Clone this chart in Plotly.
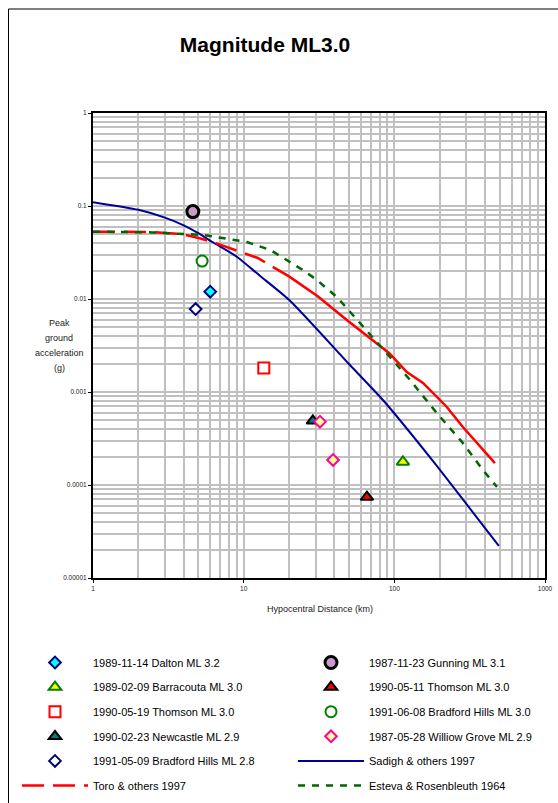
import plotly.graph_objects as go

# ---------------- data ----------------
sadigh_dist = [1, 2, 3, 4, 5, 6.2, 9, 12.8, 20, 50, 84, 178, 494]
sadigh_pga = [0.11, 0.091, 0.075, 0.062, 0.051, 0.041, 0.0285, 0.0178, 0.0098, 0.0020, 0.00082, 0.000186, 0.0000221]

toro_dist = [1, 2.4, 3.9, 5.1, 6.5, 10, 12.4, 15, 20, 31, 50, 93, 121, 155, 223, 285, 465]
toro_pga = [0.053, 0.0525, 0.050, 0.045, 0.040, 0.0315, 0.0276, 0.023, 0.0175, 0.0107, 0.0057,
            0.0026, 0.00164, 0.00125, 0.00069, 0.00042, 0.000172]

esteva_dist = [1, 2.5, 5.4, 8.1, 10.5, 15, 19.4, 24.7, 30.6, 41.6, 93.5, 127, 192, 285, 387, 480]
esteva_pga = [0.053, 0.052, 0.0488, 0.0442, 0.041, 0.0337, 0.0263, 0.0205, 0.016, 0.0105,
              0.00238, 0.00135, 0.00059, 0.000283, 0.000145, 0.0000955]

dalton_dist, dalton_pga = [6.0], [0.012]
barracouta_dist, barracouta_pga = [114], [0.000177]
thomson0519_dist, thomson0519_pga = [13.6], [0.00181]
newcastle_dist, newcastle_pga = [28.8], [0.00049]
bradford28_dist, bradford28_pga = [4.8], [0.0078]
gunning_dist, gunning_pga = [4.6], [0.087]
thomson0511_dist, thomson0511_pga = [65.8], [0.0000742]
bradford30_dist, bradford30_pga = [5.3], [0.0256]
willow_dist, willow_pga = [32.1, 39.2], [0.00048, 0.000186]

x_tickvals = [1, 10, 100, 1000]
x_ticktext = ["1", "10", "100", "1000"]
y_tickvals = [1, 0.1, 0.01, 0.001, 0.0001, 0.00001]
y_ticktext = ["1", "0.1", "0.01", "0.001", "0.0001", "0.00001"]

# ---------------- figure ----------------
W, H = 558, 803
L, R, T, B = 93, 13, 113, 225
FONT = "Liberation Sans, Arial, sans-serif"
GRID = "#c0c0c0"

fig = go.Figure()

# split index for Toro (dashed at short distance, solid afterwards as in original rendering)
split = toro_dist.index(20)

fig.add_trace(go.Scatter(x=sadigh_dist, y=sadigh_pga, mode="lines", name="Sadigh & others 1997",
                         line=dict(color="#000099", width=2, shape="spline", smoothing=0.6),
                         legend="legend2", legendrank=5, legendgroup="sadigh"))
fig.add_trace(go.Scatter(x=toro_dist[:split + 1], y=toro_pga[:split + 1], mode="lines",
                         name="Toro & others 1997",
                         line=dict(color="#ff0000", width=2.5, dash="22px,9px"),
                         legend="legend", legendrank=6, legendgroup="toro"))
fig.add_trace(go.Scatter(x=toro_dist[split:], y=toro_pga[split:], mode="lines",
                         name="Toro & others 1997", showlegend=False,
                         line=dict(color="#ff0000", width=2.5), legend="legend", legendgroup="toro"))
fig.add_trace(go.Scatter(x=esteva_dist, y=esteva_pga, mode="lines", name="Esteva & Rosenbleuth 1964",
                         line=dict(color="#006600", width=2.5, dash="7px,7px"),
                         legend="legend2", legendrank=6, legendgroup="esteva"))

def pts(x, y, name, symbol, size, fill, edge, lw, legend, rank):
    fig.add_trace(go.Scatter(x=x, y=y, mode="markers", name=name, legend=legend, legendrank=rank,
                             legendgroup=name,
                             marker=dict(symbol=symbol, size=size, color=fill,
                                         line=dict(color=edge, width=lw))))

pts(dalton_dist, dalton_pga, "1989-11-14 Dalton ML 3.2", "diamond", 9, "#00ffff", "#000080", 2, "legend", 1)
pts(barracouta_dist, barracouta_pga, "1989-02-09 Barracouta ML 3.0", "triangle-up", 11, "#ffff00", "#008000", 2, "legend", 2)
pts(thomson0519_dist, thomson0519_pga, "1990-05-19 Thomson ML 3.0", "square", 11, "#ffffff", "#ff0000", 2, "legend", 3)
pts(newcastle_dist, newcastle_pga, "1990-02-23 Newcastle ML 2.9", "triangle-up", 11, "#008080", "#000000", 2, "legend", 4)
pts(bradford28_dist, bradford28_pga, "1991-05-09 Bradford Hills ML 2.8", "diamond", 9, "#ffffff", "#000080", 2, "legend", 5)
pts(gunning_dist, gunning_pga, "1987-11-23 Gunning ML 3.1", "circle", 12, "#cc99cc", "#000000", 3, "legend2", 1)
pts(thomson0511_dist, thomson0511_pga, "1990-05-11 Thomson ML 3.0", "triangle-up", 11, "#ff0000", "#000000", 2, "legend2", 2)
pts(bradford30_dist, bradford30_pga, "1991-06-08 Bradford Hills ML 3.0", "circle", 11, "#ffffff", "#008000", 2, "legend2", 3)
pts(willow_dist, willow_pga, "1987-05-28 Williow Grove ML 2.9", "diamond", 9, "#ffff99", "#ff0099", 2, "legend2", 4)

x_minor = [m * 10 ** e for e in range(0, 3) for m in range(2, 10)]
y_minor = [m * 10.0 ** e for e in range(-5, 0) for m in range(2, 10)]

axis_common = dict(type="log", showline=True, linecolor="black", linewidth=2, mirror=True,
                   showgrid=True, gridcolor=GRID, gridwidth=2, zeroline=False,
                   ticks="outside", ticklen=3, tickcolor="black", tickwidth=1,
                   tickfont=dict(family=FONT, size=6.5, color="#222"), tickmode="array")

fig.update_xaxes(range=[0, 3], tickvals=x_tickvals, ticktext=x_ticktext,
                 minor=dict(tickmode="array", tickvals=x_minor, showgrid=True, gridcolor=GRID,
                            gridwidth=2, ticks=""), **axis_common)
fig.update_yaxes(range=[-5, 0], tickvals=y_tickvals, ticktext=y_ticktext,
                 minor=dict(tickmode="array", tickvals=y_minor, showgrid=True, gridcolor=GRID,
                            gridwidth=2, ticks=""), **axis_common)

def px_x(p):
    return (p - L) / (W - L - R)

def px_y(p):
    return (H - B - p) / (H - T - B)

annotations = []
for txt, yy in [("Peak", 322.7), ("ground", 337.7), ("acceleration", 352.5), ("(g)", 368)]:
    annotations.append(dict(text=txt, xref="paper", yref="paper", x=px_x(59), y=px_y(yy),
                            showarrow=False, xanchor="center", yanchor="middle",
                            font=dict(family=FONT, size=9, color="#222")))
annotations.append(dict(text="Hypocentral Distance (km)", xref="paper", yref="paper",
                        x=px_x(320), y=px_y(609), showarrow=False, xanchor="center",
                        yanchor="middle", font=dict(family=FONT, size=9, color="#222")))

shapes = [
    dict(type="line", xref="paper", yref="paper", x0=px_x(8.5), x1=px_x(8.5),
         y0=px_y(9), y1=px_y(820), line=dict(color="black", width=1)),
    dict(type="line", xref="paper", yref="paper", x0=px_x(8.5), x1=px_x(570),
         y0=px_y(9), y1=px_y(9), line=dict(color="black", width=1)),
]

legend_common = dict(orientation="v", xref="container", yref="container", xanchor="left",
                     yanchor="top", bgcolor="rgba(0,0,0,0)", borderwidth=0,
                     font=dict(family=FONT, size=11, color="black"),
                     traceorder="grouped", tracegroupgap=5.6, itemwidth=66)

fig.update_layout(
    width=W, height=H, margin=dict(l=L, r=R, t=T, b=B, autoexpand=False),
    paper_bgcolor="white", plot_bgcolor="white",
    title=dict(text="Magnitude ML3.0", xref="container", yref="container", x=265 / W,
               y=1 - 45 / H, xanchor="center", yanchor="middle",
               font=dict(family=FONT, size=21, color="black", weight="bold")),
    showlegend=True,
    legend=dict(x=17 / W, y=1 - 648 / H, **legend_common),
    legend2=dict(x=293 / W, y=1 - 648 / H, **legend_common),
    annotations=annotations, shapes=shapes,
)

fig.write_html("out.html")
